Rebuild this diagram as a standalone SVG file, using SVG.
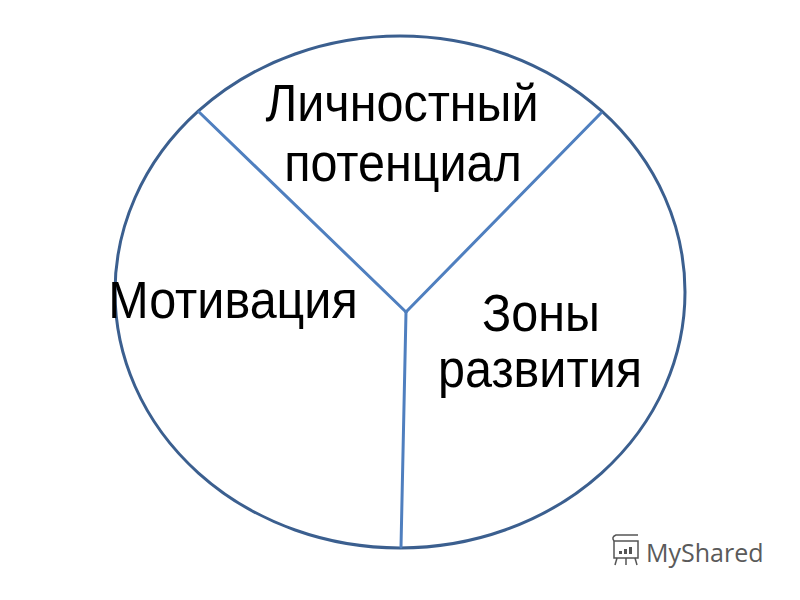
<svg xmlns="http://www.w3.org/2000/svg" width="800" height="600" viewBox="0 0 800 600">
<style>
.lbl{font-family:"Liberation Sans",Arial,sans-serif;font-size:48.5px;fill:#000;text-anchor:middle}
.div{stroke:#4f7fbf;stroke-width:3;fill:none;stroke-linecap:round}
</style>
<rect width="800" height="600" fill="#fff"/>
<g id="circle">
<ellipse cx="400" cy="292" rx="285" ry="256" fill="none" stroke="#3b5f8f" stroke-width="3"/>
</g>
<g id="connectors">
<line class="div" x1="199" y1="112" x2="406" y2="312"/>
<line class="div" x1="601" y1="113" x2="406" y2="312"/>
<line class="div" x1="406" y1="312" x2="401" y2="547"/>
</g>
<g id="node-potential">
<text class="lbl" transform="translate(402 121) scale(1 1.08)">Личностный</text>
<text class="lbl" transform="translate(403 181) scale(1 1.08)">потенциал</text>
</g>
<g id="node-motivation">
<text class="lbl" transform="translate(233 318) scale(1 1.08)">Мотивация</text>
</g>
<g id="node-zones">
<text class="lbl" transform="translate(541 331) scale(1 1.08)">Зоны</text>
<text class="lbl" transform="translate(540 387) scale(1 1.08)">развития</text>
</g>
<g id="watermark">
<g fill="none" stroke="#555" stroke-width="1.5">
<rect x="614" y="541" width="24" height="17"/>
<line x1="617" y1="558" x2="615" y2="565"/>
<line x1="626" y1="558" x2="626" y2="565"/>
<line x1="635" y1="558" x2="637" y2="565"/>
<path d="M614 541 q-3 -4 2 -6 h22"/>
</g>
<g fill="#555">
<rect x="619" y="551" width="3" height="3"/>
<rect x="624" y="549" width="3" height="5"/>
<rect x="629" y="547" width="3" height="7"/>
</g>
<text x="646" y="562" font-family="'Open Sans','Liberation Sans',sans-serif" font-size="25" fill="#5a5a5a">MyShared</text>
</g>
</svg>
